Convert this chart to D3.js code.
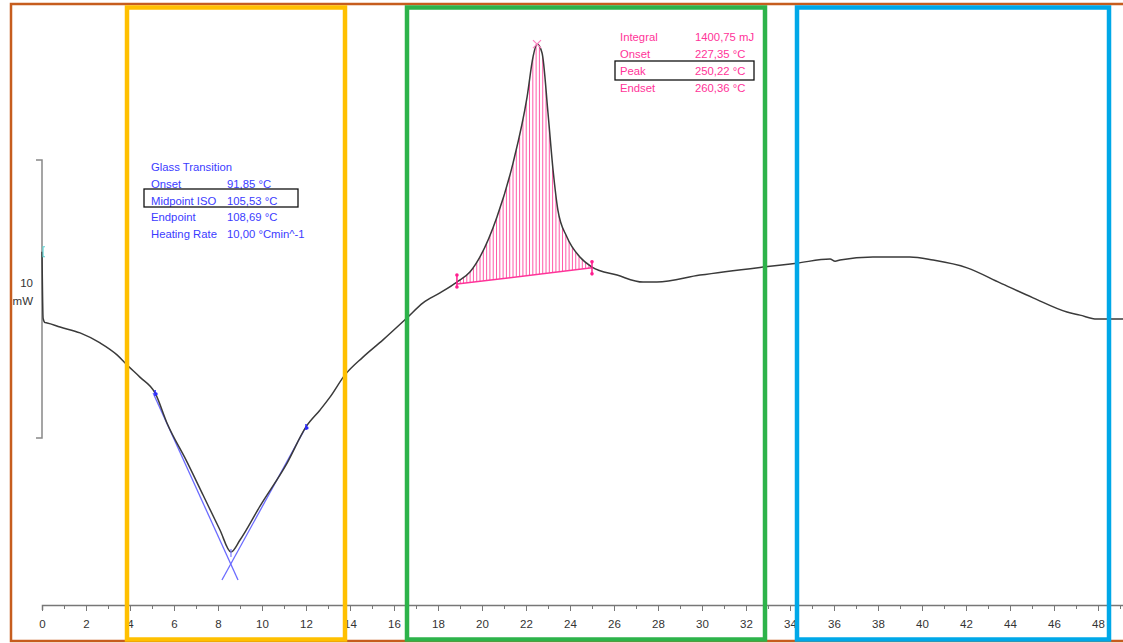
<!DOCTYPE html>
<html>
<head>
<meta charset="utf-8">
<style>
  body { margin: 0; background: #fff; }
  svg { display: block; }
</style>
</head>
<body>
<div id="dscChart"></div>

<script src="https://d3js.org/d3.v7.min.js"></script>

<script>
    // DSC curve, x = time (min), y = heat flow (mW, arbitrary offset)
    var timeMin  = [0, 0.05, 0.14, 0.23, 0.82, 1.73, 2.64, 3.41, 3.86, 4.45, 5.14, 5.68, 6.59, 7.32, 8.09, 8.59, 9.0, 9.91, 11.14, 12.0, 12.64,
                    13.09, 13.77, 14.59, 15.5, 16.59, 17.32, 18.09, 18.86, 19.45, 20.68, 21.41, 22.05, 22.32, 22.5, 22.73, 23.0, 23.23, 23.45,
                    23.86, 24.45, 25.0, 26.14, 27.32, 27.95, 29.91, 32.77, 34.32, 35.82, 36.05, 36.27, 37.77, 39.45, 40.5, 42.05, 43.55,
                    45.05, 46.59, 47.18, 47.95, 49.14];
    var heatFlow = [6.7, 4.3, 4.15, 4.14, 3.99, 3.78, 3.42, 2.99, 2.63, 2.19, 1.62, 0.54, -0.86, -2.05, -3.31, -4.1, -3.67, -2.45, -0.9, 0.4, 1.01,
                    1.47, 2.27, 2.91, 3.53, 4.32, 4.86, 5.22, 5.61, 5.97, 7.95, 9.89, 12.27, 13.71, 14.17, 13.85, 11.69, 9.64, 8.2,
                    7.23, 6.51, 6.15, 5.86, 5.61, 5.61, 5.86, 6.15, 6.29, 6.44, 6.36, 6.4, 6.51, 6.51, 6.4, 6.12, 5.58,
                    5.04, 4.53, 4.42, 4.28, 4.28];

    var xTicks = d3.range(0, 50);

    // glass transition evaluation (blue)
    var gtLabels = ["Onset", "Midpoint ISO", "Endpoint", "Heating Rate"];
    var gtValues = ["91,85 °C", "105,53 °C", "108,69 °C", "10,00 °Cmin^-1"];
    var gtMarkers = [[5.14, 1.62], [12.0, 0.40]];
    var gtTangents = [[[5.05, 1.62], [8.91, -5.11]], [[12.0, 0.40], [8.18, -5.11]]];
    var gtMid = [8.59, -4.1];

    // peak integration (pink)
    var pkLabels = ["Integral", "Onset", "Peak", "Endset"];
    var pkValues = ["1400,75 mJ", "227,35 °C", "250,22 °C", "260,36 °C"];
    var pkLimits = [[18.86, 5.54], [25.0, 6.12]];
    var pkTop = [22.5, 14.17];

    var width = 1123, height = 643;

    var svg = d3.select("#dscChart").append("svg")
        .attr("width", width)
        .attr("height", height);

    var x = d3.scaleLinear().domain([0, 49.2]).range([42, 1124.4]);
    var y = d3.scaleLinear().domain([0, 10]).range([438, 160]);

    var data = timeMin.map(function(t, i) { return [t, heatFlow[i]]; });

    var line = d3.line()
        .x(function(d) { return x(d[0]); })
        .y(function(d) { return y(d[1]); })
        .curve(d3.curveMonotoneX);

    var font = "Liberation Sans, Arial, sans-serif";

    // x axis
    var axis = svg.append("g")
        .attr("transform", "translate(0,605)")
        .call(d3.axisBottom(x).tickValues(xTicks)
            .tickSize(5).tickPadding(10)
            .tickFormat(function(d) { return d % 2 === 0 ? d : ""; }));
    axis.select(".domain").attr("stroke", "#777").attr("stroke-width", 1.5);
    axis.selectAll(".tick line").attr("stroke", "#777")
        .attr("y2", function(d) { return d % 2 === 0 ? 6 : 4; });
    axis.selectAll(".tick text")
        .attr("fill", "#333")
        .style("font-family", font)
        .style("font-size", "11.5px");

    // 10 mW scale bar
    var bar = svg.append("g").attr("stroke", "#888").attr("stroke-width", 1.5).attr("fill", "none");
    bar.append("path")
        .attr("d", "M" + (x(0) - 6) + "," + y(10) + "H" + x(0) + "V" + y(0) + "H" + (x(0) - 6));
    svg.append("text").attr("x", 33).attr("y", 287).attr("text-anchor", "end")
        .attr("fill", "#333").style("font-family", font).style("font-size", "11.5px")
        .text("10");
    svg.append("text").attr("x", 33).attr("y", 305).attr("text-anchor", "end")
        .attr("fill", "#333").style("font-family", font).style("font-size", "11.5px")
        .text("mW");

    // peak hatching, clipped to the area between curve and baseline
    var peakData = data.filter(function(d) { return d[0] >= pkLimits[0][0] && d[0] <= pkLimits[1][0]; });
    var baseAt = d3.scaleLinear().domain([pkLimits[0][0], pkLimits[1][0]]).range([pkLimits[0][1], pkLimits[1][1]]);
    var area = d3.area()
        .x(function(d) { return x(d[0]); })
        .y0(function(d) { return y(baseAt(d[0])); })
        .y1(function(d) { return y(d[1]); })
        .curve(d3.curveMonotoneX);

    svg.append("clipPath").attr("id", "peakClip")
        .append("path").attr("d", area(peakData));

    var hatchX = d3.range(x(pkLimits[0][0]), x(pkLimits[1][0]), 3.3);
    svg.append("g").attr("clip-path", "url(#peakClip)")
        .selectAll("line").data(hatchX).enter().append("line")
        .attr("x1", function(d) { return d; }).attr("x2", function(d) { return d; })
        .attr("y1", y(pkTop[1]) - 5).attr("y2", y(pkLimits[0][1]) + 5)
        .attr("stroke", "#ff5aa8").attr("stroke-width", 1);

    svg.append("line")
        .attr("x1", x(pkLimits[0][0])).attr("y1", y(pkLimits[0][1]))
        .attr("x2", x(pkLimits[1][0])).attr("y2", y(pkLimits[1][1]))
        .attr("stroke", "#ff3399").attr("stroke-width", 1.5);

    // glass transition tangents
    svg.append("g").selectAll("line").data(gtTangents).enter().append("line")
        .attr("x1", function(d) { return x(d[0][0]); }).attr("y1", function(d) { return y(d[0][1]); })
        .attr("x2", function(d) { return x(d[1][0]); }).attr("y2", function(d) { return y(d[1][1]); })
        .attr("stroke", "#6b6bff").attr("stroke-width", 1.3);

    // the curve
    svg.append("path")
        .datum(data)
        .attr("d", line)
        .attr("fill", "none")
        .attr("stroke", "#3a3a3a")
        .attr("stroke-width", 1.5);

    // markers
    svg.append("path")
        .attr("d", "M" + (x(0) + 3) + "," + (y(heatFlow[0]) - 5) + "h-2v10h2")
        .attr("fill", "none").attr("stroke", "#5fd3d3").attr("stroke-width", 1.2);

    gtMarkers.forEach(function(m) {
        svg.append("line").attr("x1", x(m[0])).attr("x2", x(m[0]))
            .attr("y1", y(m[1]) - 3).attr("y2", y(m[1]) + 3)
            .attr("stroke", "#2a2aff").attr("stroke-width", 1.5);
        svg.append("circle").attr("cx", x(m[0]) + 1).attr("cy", y(m[1]) + 1).attr("r", 1.6).attr("fill", "#2a2aff");
    });
    svg.append("line").attr("x1", x(gtMid[0])).attr("x2", x(gtMid[0]))
        .attr("y1", y(gtMid[1]) - 3).attr("y2", y(gtMid[1]) + 5)
        .attr("stroke", "#7a7aff").attr("stroke-width", 1.2);

    pkLimits.forEach(function(m) {
        var cy = m === pkLimits[0] ? y(m[1]) - 3 : y(m[1]);
        svg.append("line").attr("x1", x(m[0])).attr("x2", x(m[0]))
            .attr("y1", cy - 7).attr("y2", cy + 7)
            .attr("stroke", "#ff1f8f").attr("stroke-width", 1.5);
        svg.append("circle").attr("cx", x(m[0])).attr("cy", cy - 6).attr("r", 1.8).attr("fill", "#ff1f8f");
        svg.append("circle").attr("cx", x(m[0])).attr("cy", cy + 6).attr("r", 1.8).attr("fill", "#ff1f8f");
    });
    svg.append("path")
        .attr("d", "M" + (x(pkTop[0]) - 4) + "," + (y(pkTop[1]) - 4) + "L" + (x(pkTop[0]) + 4) + "," + (y(pkTop[1]) + 4) +
                   "M" + (x(pkTop[0]) + 4) + "," + (y(pkTop[1]) - 4) + "L" + (x(pkTop[0]) - 4) + "," + (y(pkTop[1]) + 4))
        .attr("stroke", "#ff80c0").attr("stroke-width", 1.2);

    // annotation text
    var gt = svg.append("g").attr("fill", "#3b3bff").style("font-family", font).style("font-size", "11.3px");
    gt.append("text").attr("x", 151).attr("y", 171).text("Glass Transition");
    gtLabels.forEach(function(l, i) {
        gt.append("text").attr("x", 151).attr("y", 188 + i * 16.7).text(l);
        gt.append("text").attr("x", 227).attr("y", 188 + i * 16.7).text(gtValues[i]);
    });
    svg.append("rect").attr("x", 144).attr("y", 189).attr("width", 154).attr("height", 18)
        .attr("fill", "none").attr("stroke", "#111").attr("stroke-width", 1.3);

    var pk = svg.append("g").attr("fill", "#ff3399").style("font-family", font).style("font-size", "11.3px");
    pkLabels.forEach(function(l, i) {
        pk.append("text").attr("x", 620).attr("y", 41 + i * 17).text(l);
        pk.append("text").attr("x", 695).attr("y", 41 + i * 17).text(pkValues[i]);
    });
    svg.append("rect").attr("x", 615).attr("y", 61).attr("width", 139).attr("height", 19)
        .attr("fill", "none").attr("stroke", "#111").attr("stroke-width", 1.3);

    // highlight frames
    svg.append("path")
        .attr("d", "M1130,4H11V641H1130")
        .attr("fill", "none").attr("stroke", "#c65d1e").attr("stroke-width", 2.5);
    var frames = [
        { x0: 127, x1: 345, c: "#ffc000" },
        { x0: 407, x1: 765, c: "#2db34a" },
        { x0: 797, x1: 1109, c: "#00a8e8" }
    ];
    svg.append("g").selectAll("rect").data(frames).enter().append("rect")
        .attr("x", function(d) { return d.x0; }).attr("y", 7.5)
        .attr("width", function(d) { return d.x1 - d.x0; }).attr("height", 632)
        .attr("fill", "none")
        .attr("stroke", function(d) { return d.c; })
        .attr("stroke-width", 4.5);
</script>
</body>
</html>
